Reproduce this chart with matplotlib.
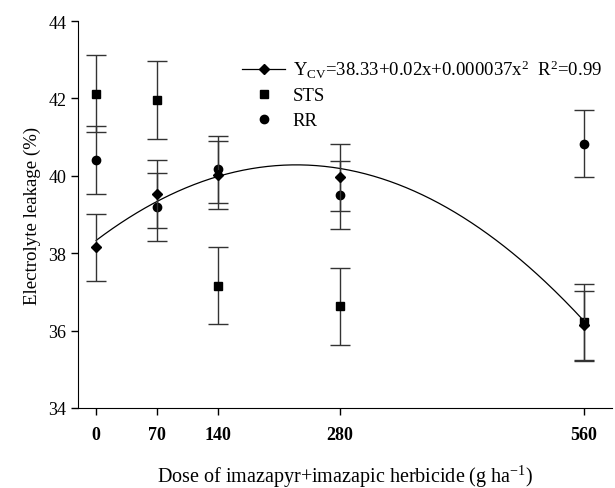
import numpy as np
import matplotlib
matplotlib.use("Agg")
import matplotlib.pyplot as plt

plt.rcParams['font.family'] = ['Liberation Serif', 'DejaVu Serif']
plt.rcParams['mathtext.fontset'] = 'custom'
plt.rcParams['mathtext.rm'] = 'Liberation Serif'
plt.rcParams['mathtext.it'] = 'Liberation Serif:italic'

# data
dose = [0, 70, 140, 280, 560]
cv = [38.15, 39.54, 40.02, 39.96, 36.14]
cv_err = [0.87, 0.88, 0.87, 0.87, 0.89]
sts = [42.12, 41.96, 37.16, 36.63, 36.21]
sts_err = [1.0, 1.0, 1.0, 1.0, 1.0]
rr = [40.40, 39.19, 40.17, 39.50, 40.83]
rr_err = [0.88, 0.88, 0.87, 0.87, 0.87]

# fitted curve coefficients for CV
fit_a, fit_b, fit_c = 38.33, 0.017, -0.000037

fig = plt.figure(figsize=(6.15, 4.89), dpi=100)
ax = fig.add_axes([0.127, 0.1636, 0.868, 0.7914])

xs = np.linspace(0, 560, 300)
ax.plot(xs, fit_a + fit_b * xs + fit_c * xs ** 2, color='black', lw=0.9, zorder=2)

eb = dict(ecolor='#333333', elinewidth=1.0, capsize=7, capthick=1.0, ls='none', color='black')
ax.errorbar(dose, sts, yerr=sts_err, marker='s', ms=5.5, **eb, zorder=3)
ax.errorbar(dose, rr, yerr=rr_err, marker='o', ms=6, **eb, zorder=3)
ax.errorbar(dose, cv, yerr=cv_err, marker='D', ms=5.5, **eb, zorder=4)

# legend handles
h_cv, = ax.plot([], [], color='black', lw=0.9, marker='D', ms=5.5)
h_sts, = ax.plot([], [], color='black', ls='none', marker='s', ms=5.5)
h_rr, = ax.plot([], [], color='black', ls='none', marker='o', ms=6)
ax.legend([h_cv, h_sts, h_rr],
          [r'Y$_{\mathrm{CV}}$=38.33+0.02x+0.000037x$^{2}$  R$^{2}$=0.99', 'STS', 'RR'],
          loc='upper left', bbox_to_anchor=(0.307, 0.905), frameon=False,
          fontsize=13.5, handlelength=2.3, handletextpad=0.4, labelspacing=0.4,
          borderaxespad=0, borderpad=0)

ax.set_xlim(-20.7, 592)
ax.set_ylim(34, 44)
ax.set_xticks(dose)
ax.set_xticklabels([str(d) for d in dose], fontweight='bold')
ax.set_yticks([34, 36, 38, 40, 42, 44])
ax.tick_params(axis='both', labelsize=13, direction='out', length=5, width=1)
ax.tick_params(axis='x', pad=8)
for s in ['top', 'right']:
    ax.spines[s].set_visible(False)

ax.set_ylabel('Electrolyte leakage (%)', fontsize=13.6, labelpad=5)
ax.set_xlabel(r'Dose of imazapyr+imazapic herbicide (g ha$^{-1}$)', fontsize=14.5, labelpad=14)

fig.savefig('out.png', dpi=100)
